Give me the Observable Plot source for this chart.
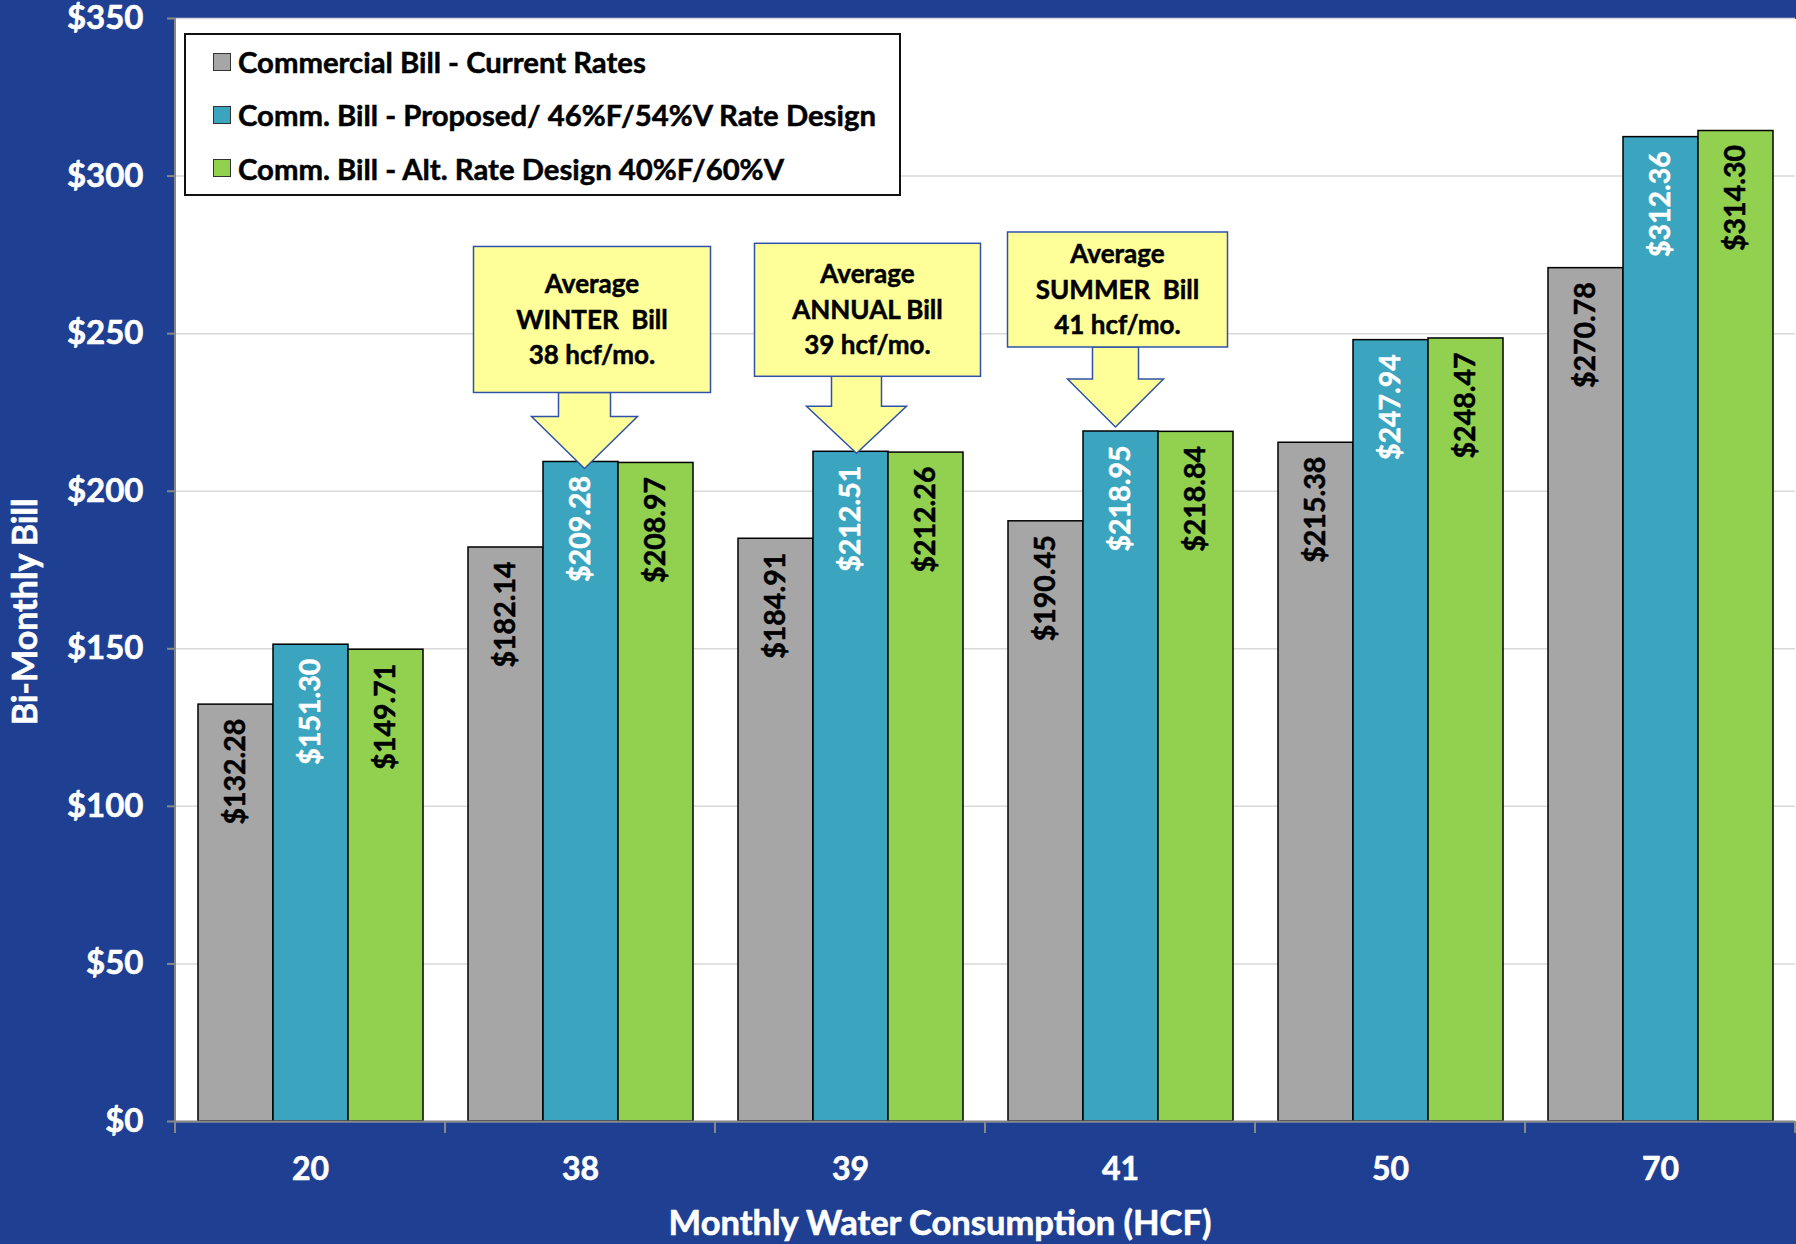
<!DOCTYPE html>
<html>
<head>
<meta charset="utf-8">
<script src="https://cdn.jsdelivr.net/npm/d3@7"></script>
<script src="https://cdn.jsdelivr.net/npm/@observablehq/plot@0.6"></script>
<style>
  html, body { margin: 0; padding: 0; background: #1f3f93; }
  #wrap { position: relative; width: 1796px; height: 1244px; overflow: hidden; font-family: Lato, "Open Sans", sans-serif; }
  #legend { position: absolute; left: 184px; top: 33px; width: 713px; height: 159px; background: #fff; border: 2px solid #111; }
  #legend .row { height: 53.3px; display: flex; align-items: center; padding-left: 27px; }
  #legend .sw { width: 16px; height: 16px; border: 1.6px solid #333; margin-right: 7px; flex: none; }
  #legend .lab { font-weight: bold; font-size: 29.3px; color: #000; white-space: nowrap; -webkit-text-stroke: 0.5px #000; }
</style>
</head>
<body>
<div id="wrap"></div>
<script>
// ---------- data ----------
const categories = ["20", "38", "39", "41", "50", "70"];
const seriesNames = [
  "Commercial Bill - Current Rates",
  "Comm. Bill - Proposed/ 46%F/54%V Rate Design",
  "Comm. Bill - Alt. Rate Design 40%F/60%V"
];
const currentRates  = [132.28, 182.14, 184.91, 190.45, 215.38, 270.78];
const proposedRates = [151.30, 209.28, 212.51, 218.95, 247.94, 312.36];
const altRates      = [149.71, 208.97, 212.26, 218.84, 248.47, 314.30];
const seriesColors = ["#a6a6a6", "#3ba4be", "#92d050"];
const labelColors  = ["#000000", "#ffffff", "#000000"];
const yTicks = [0, 50, 100, 150, 200, 250, 300, 350];
const calloutCategories = ["38", "39", "41"];
const calloutLines = [
  ["Average", "WINTER  Bill", "38 hcf/mo."],
  ["Average", "ANNUAL Bill", "39 hcf/mo."],
  ["Average", "SUMMER  Bill", "41 hcf/mo."]
];
const xTitle = "Monthly Water Consumption (HCF)";
const yTitle = "Bi-Monthly Bill";

// ---------- table ----------
const seriesValues = [currentRates, proposedRates, altRates];
const rows = categories.flatMap((c, i) => seriesValues.map((arr, k) => ({cat: c, s: k, v: arr[i]})));

const chart = Plot.plot({
  width: 1796,
  height: 1244,
  marginTop: 18,
  marginBottom: 123,
  marginLeft: 173,
  marginRight: 0,
  style: {background: "transparent", fontFamily: "Lato, 'Open Sans', sans-serif", overflow: "visible"},
  fx: {domain: categories, paddingInner: 0, paddingOuter: 0, label: null},
  x: {domain: [0, 1, 2], paddingInner: 0, paddingOuter: 0.29, axis: null},
  y: {domain: [0, 350], label: null},
  marks: [
    Plot.frame({fill: "white", stroke: null, shapeRendering: "crispEdges"}),
    Plot.gridY(yTicks, {stroke: "#d9d9d9", strokeOpacity: 1, strokeWidth: 1.5}),
    Plot.barY(rows, {fx: "cat", x: "s", y: "v", fill: d => seriesColors[d.s], stroke: "#000", strokeWidth: 1.5, inset: 0}),
    Plot.text(rows, {
      fx: "cat", x: "s", y: "v",
      text: d => "$" + d.v.toFixed(2),
      rotate: -90, textAnchor: "end", lineAnchor: "middle", dy: 14,
      fill: d => labelColors[d.s], stroke: d => labelColors[d.s], strokeWidth: 0.5,
      fontSize: 28.5, fontWeight: "bold"
    }),
    Plot.ruleY([0], {stroke: "#888", strokeWidth: 2}),
    Plot.axisY(yTicks, {tickFormat: d => "$" + d, tickSize: 8, tickPadding: 24, stroke: "#888", strokeWidth: 2, fill: "white", fontSize: 33, fontWeight: "bold", label: null}),
    Plot.axisFx({anchor: "bottom", tickSize: 0, tickPadding: 36, fill: "white", fontSize: 32, fontWeight: "bold", label: null})
  ]
});

document.getElementById("wrap").appendChild(chart);

// bolder axis text, like the reference
d3.select(chart).selectAll("g[aria-label='y-axis tick label'] text, g[aria-label='fx-axis tick label'] text")
  .attr("stroke", "white").attr("stroke-width", 0.6);

// ---------- extras drawn through the plot's scales ----------
const svg = d3.select(chart);
const fxS = chart.scale("fx");
const xS = chart.scale("x");
const yS = chart.scale("y");
const y0 = yS.apply(0);
const y350 = yS.apply(350);
const left = fxS.apply(categories[0]);

// left axis line
svg.append("line").attr("x1", left).attr("x2", left).attr("y1", y350).attr("y2", y0)
  .attr("stroke", "#888").attr("stroke-width", 2);

// category boundary ticks
const bounds = categories.map(c => fxS.apply(c)).concat([fxS.apply(categories[categories.length - 1]) + fxS.bandwidth]);
bounds.forEach(bx => {
  svg.append("line").attr("x1", bx).attr("x2", bx).attr("y1", y0).attr("y2", y0 + 12)
    .attr("stroke", "#888").attr("stroke-width", 2);
});

// axis titles
svg.append("text").attr("x", 940).attr("y", 1235).attr("text-anchor", "middle")
  .attr("fill", "white").attr("stroke", "white").attr("stroke-width", 0.6)
  .attr("font-size", 34.5).attr("font-weight", "bold").text(xTitle);
svg.append("text").attr("transform", "translate(37,612) rotate(-90)").attr("text-anchor", "middle")
  .attr("fill", "white").attr("stroke", "white").attr("stroke-width", 0.6)
  .attr("font-size", 34).attr("font-weight", "bold").text(yTitle);

// callouts (pointing at the proposed-rate bar of each category)
const calloutLayout = [
  {dx: 4,  dy: 7,  left: -111, right: 126, top: -222, bottom: -76, shaft: 26, head: 53, headTop: -52},
  {dx: 6,  dy: 2,  left: -102, right: 124, top: -210, bottom: -77, shaft: 25, head: 50, headTop: -47},
  {dx: -5, dy: -4, left: -108, right: 112, top: -195, bottom: -80, shaft: 23, head: 48, headTop: -48}
];
calloutCategories.forEach((c, i) => {
  const idx = categories.indexOf(c);
  const L = calloutLayout[i];
  const cx = fxS.apply(c) + (xS.apply(1) - xS.range[0]) + xS.bandwidth / 2 + L.dx;
  const cy = yS.apply(proposedRates[idx]) + L.dy;
  const g = svg.append("g");
  const pts = [
    [cx, cy], [cx - L.head, cy + L.headTop], [cx - L.shaft, cy + L.headTop],
    [cx - L.shaft, cy + L.bottom], [cx + L.shaft, cy + L.bottom],
    [cx + L.shaft, cy + L.headTop], [cx + L.head, cy + L.headTop]
  ];
  g.append("polygon").attr("points", pts.map(p => p.join(",")).join(" "))
    .attr("fill", "#ffff99").attr("stroke", "#2f52a8").attr("stroke-width", 1.5).attr("stroke-linejoin", "miter");
  g.append("rect").attr("x", cx + L.left).attr("y", cy + L.top)
    .attr("width", L.right - L.left).attr("height", L.bottom - L.top)
    .attr("fill", "#ffff99").attr("stroke", "#2f52a8").attr("stroke-width", 1.5);
  const midY = cy + (L.top + L.bottom) / 2;
  const midX = cx + (L.left + L.right) / 2;
  calloutLines[i].forEach((t, j) => {
    g.append("text").attr("x", midX).attr("y", midY + (j - 1) * 35.5).attr("dy", "0.35em")
      .attr("text-anchor", "middle").attr("font-size", 26).attr("font-weight", "bold")
      .attr("fill", "#000").attr("stroke", "#000").attr("stroke-width", 0.5)
      .attr("xml:space", "preserve").style("white-space", "pre").text(t);
  });
});

// legend
const legend = d3.select("#wrap").append("div").attr("id", "legend");
seriesNames.forEach((n, k) => {
  const r = legend.append("div").attr("class", "row");
  r.append("div").attr("class", "sw").style("background", seriesColors[k]);
  r.append("div").attr("class", "lab").text(n);
});
</script>
</body>
</html>
